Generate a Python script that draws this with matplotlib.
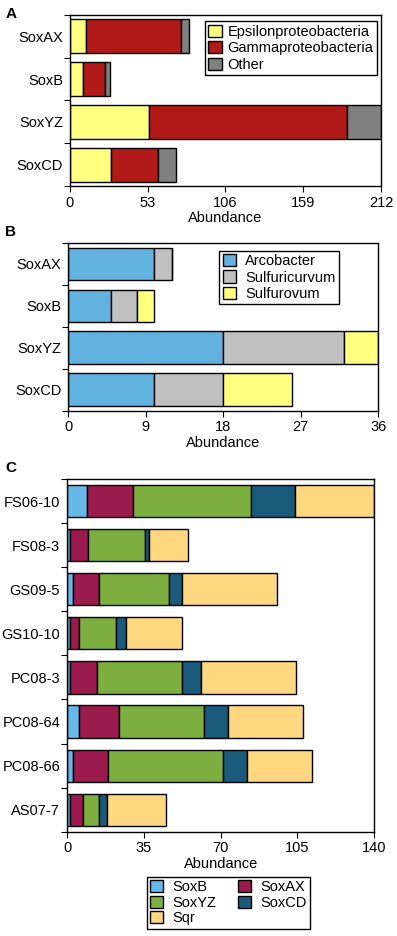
import numpy as np
import matplotlib
matplotlib.use('Agg')
from matplotlib import pyplot as plt

plt.rcParams['font.family'] = ['Liberation Sans', 'DejaVu Sans']
plt.rcParams['font.size'] = 10.5

# panel A
genes_a = ['SoxAX', 'SoxB', 'SoxYZ', 'SoxCD']
epsilon = [11, 9, 54, 28]
gamma = [65, 15, 135, 32]
other = [5, 3, 23, 12]
ticks_a = [0, 53, 106, 159, 212]

# panel B
genes_b = ['SoxAX', 'SoxB', 'SoxYZ', 'SoxCD']
arcobacter = [10, 5, 18, 10]
sulfuricurvum = [2, 3, 14, 8]
sulfurovum = [0, 2, 4, 8]
ticks_b = [0, 9, 18, 27, 36]

# panel C
samples = ['FS06-10', 'FS08-3', 'GS09-5', 'GS10-10', 'PC08-3', 'PC08-64', 'PC08-66', 'AS07-7']
soxB = [9, 1.5, 2.5, 1.5, 1.5, 5.5, 2.5, 1.5]
soxAX = [21, 8, 12, 4, 12, 18, 16, 6]
soxYZ = [54, 26, 32, 17, 39, 39, 52.5, 7]
soxCD = [20, 2, 6, 4.5, 8.5, 11, 11, 3.5]
sqr = [36, 17.5, 43, 25.5, 43.5, 34, 29.5, 27]
ticks_c = [0, 35, 70, 105, 140]


def stacked(ax, cats, series, names, colors, ticks, height):
    y = np.arange(len(cats))
    left = np.zeros(len(cats))
    for vals, nm, col in zip(series, names, colors):
        vals = np.array(vals, dtype=float)
        ax.barh(y, vals, left=left, height=height, color=col,
                edgecolor='black', linewidth=1.0, label=nm)
        left += vals
    ax.set_ylim(len(cats) - 0.5, -0.5)
    ax.set_xlim(ticks[0], ticks[-1])
    ax.set_xticks(ticks)
    ax.set_xticklabels([str(t) for t in ticks])
    ax.set_yticks(np.arange(len(cats) + 1) - 0.5)
    ax.set_yticklabels([])
    ax.set_yticks(y, minor=True)
    ax.set_yticklabels(cats, minor=True)
    ax.tick_params(axis='y', which='minor', length=0, pad=5)
    ax.tick_params(axis='y', which='major', length=4, direction='out')
    ax.tick_params(axis='x', length=4, direction='out', pad=3)
    ax.set_xlabel('Abundance', labelpad=1)
    for s in ax.spines.values():
        s.set_linewidth(1.0)


fig = plt.figure(figsize=(3.97, 9.36), dpi=100)

axA = fig.add_axes([0.1763, 0.8013, 0.9597 - 0.1763, 0.984 - 0.8013])
stacked(axA, genes_a, [epsilon, gamma, other],
        ['Epsilonproteobacteria', 'Gammaproteobacteria', 'Other'],
        ['#FFFF80', '#B21A1A', '#808080'], ticks_a, 0.8)
axA.legend(loc='upper right', bbox_to_anchor=(0.987, 0.962), fancybox=False,
           edgecolor='black', framealpha=1, handlelength=0.9, handleheight=0.9,
           borderpad=0.25, labelspacing=0.15, handletextpad=0.4, borderaxespad=0)

axB = fig.add_axes([0.172, 0.5612, 0.953 - 0.172, 0.7404 - 0.5612])
stacked(axB, genes_b, [arcobacter, sulfuricurvum, sulfurovum],
        ['Arcobacter', 'Sulfuricurvum', 'Sulfurovum'],
        ['#62B2E0', '#C0C0C0', '#FFFF80'], ticks_b, 0.78)
axB.legend(loc='upper right', bbox_to_anchor=(0.873, 0.955), fancybox=False,
           edgecolor='black', framealpha=1, handlelength=0.9, handleheight=0.9,
           borderpad=0.25, labelspacing=0.15, handletextpad=0.6, borderaxespad=0)

axC = fig.add_axes([0.1688, 0.1114, 0.9428 - 0.1688, 0.4882 - 0.1114])
stacked(axC, samples, [soxB, soxAX, soxYZ, soxCD, sqr],
        ['SoxB', 'SoxAX', 'SoxYZ', 'SoxCD', 'Sqr'],
        ['#66B8E8', '#9B1B4D', '#7CAF3F', '#1A5A7A', '#FFD780'], ticks_c, 0.73)
h, l = axC.get_legend_handles_labels()
order = [0, 2, 4, 1, 3]
fig.legend([h[i] for i in order], [l[i] for i in order], loc='upper center',
           bbox_to_anchor=(0.575, 0.0634), ncol=2, fancybox=False,
           edgecolor='black', framealpha=1, handlelength=0.9, handleheight=0.9,
           borderpad=0.25, labelspacing=0.1, handletextpad=0.6, columnspacing=1.5,
           borderaxespad=0)

fig.text(0.013, 0.992, 'A', fontsize=11, fontweight='bold', va='top')
fig.text(0.013, 0.760, 'B', fontsize=11, fontweight='bold', va='top')
fig.text(0.013, 0.508, 'C', fontsize=11, fontweight='bold', va='top')

fig.savefig('out.png', dpi=100)
